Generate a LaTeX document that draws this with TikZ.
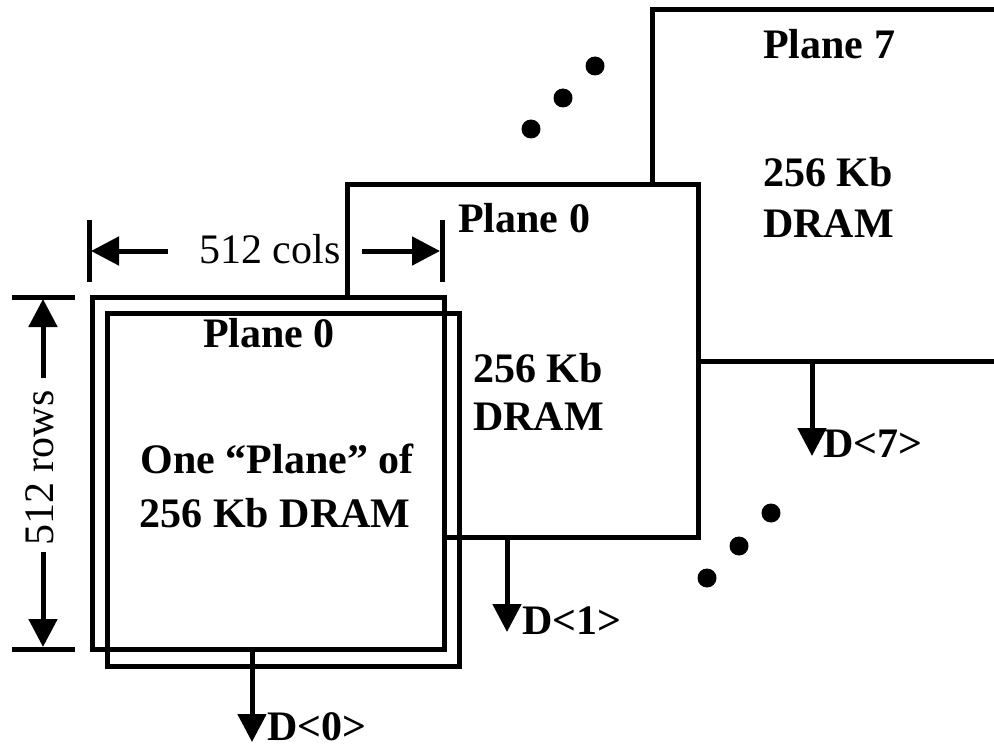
\documentclass[tikz,border=0pt]{standalone}
\usepackage{fontspec}
\setmainfont{Liberation Serif}
\usetikzlibrary{arrows.meta}
\tikzset{
  wire/.style={line width=5pt, line join=miter},
  arr/.style={line width=5pt, -{Triangle[length=28pt,width=28pt]}},
  lbl/.style={inner sep=0pt, font=\fontsize{42}{50}\selectfont\bfseries},
  dimlbl/.style={inner sep=0pt, font=\fontsize{42}{50}\selectfont},
  dotc/.style={fill=black, draw=none}
}
\begin{document}
\begin{tikzpicture}[x=1pt,y=-1pt]
\useasboundingbox (0,0) rectangle (994,749);
% Plane 7 (back)
\coordinate (p7a) at (652,185);
\coordinate (p7b) at (652,10);
\coordinate (p7c) at (994,10);
\coordinate (p7d) at (698,361);
\coordinate (p7e) at (994,361);
\draw[wire] (p7a) -- (p7b) -- (p7c);
\draw[wire] (p7d) -- (p7e);
% Middle plane
\coordinate (m1) at (347,297);
\coordinate (m2) at (347,185);
\coordinate (m3) at (698,185);
\coordinate (m4) at (698,537);
\coordinate (m5) at (444,537);
\draw[wire] (m1) -- (m2) -- (m3) -- (m4) -- (m5);
% Front double box
\draw[wire] (92,297) rectangle (444,649);
\draw[wire] (107,313) rectangle (459,666);
% Texts
\node[lbl, anchor=base west] (t7a) at (763,59) {Plane 7};
\node[lbl, anchor=base west] (t7b) at (763,187) {256 Kb};
\node[lbl, anchor=base west] (t7c) at (763,237) {DRAM};
\node[lbl, anchor=base west] (t1a) at (458,233) {Plane 0};
\node[lbl, anchor=base west] (t1b) at (473,382) {256 Kb};
\node[lbl, anchor=base west] (t1c) at (473,430) {DRAM};
\node[lbl, anchor=base] (t0a) at (269,347) {Plane 0};
\node[lbl, anchor=base] (t0b) at (277,473) {One “Plane” of};
\node[lbl, anchor=base] (t0c) at (275,527) {256 Kb DRAM};
% Output arrows
\coordinate (d0s) at (252,649);
\coordinate (d0e) at (252,742);
\coordinate (d1s) at (507,537);
\coordinate (d1e) at (507,632);
\coordinate (d7s) at (812,361);
\coordinate (d7e) at (812,456);
\draw[arr] (d0s) -- (d0e);
\draw[arr] (d1s) -- (d1e);
\draw[arr] (d7s) -- (d7e);
\node[lbl, anchor=base west] (d0) at (267,740) {D<0>};
\node[lbl, anchor=base west] (d1) at (522,634) {D<1>};
\node[lbl, anchor=base west] (d7) at (823,457) {D<7>};
% 512 cols dimension
\draw[wire] (89,220) -- (89,282);
\draw[wire] (442,220) -- (442,282);
\node[dimlbl, anchor=base] (cols) at (270,263) {512 cols};
\coordinate (cl1) at (168,251);
\coordinate (cl2) at (91,251);
\coordinate (cr1) at (362,251);
\coordinate (cr2) at (440,251);
\draw[arr] (cl1) -- (cl2);
\draw[arr] (cr1) -- (cr2);
% 512 rows dimension
\draw[wire] (12,297) -- (75,297);
\draw[wire] (12,649) -- (75,649);
\node[dimlbl, rotate=90] (rows) at (40,468) {512 rows};
\coordinate (ru1) at (43,378);
\coordinate (ru2) at (43,299);
\coordinate (rd1) at (43,552);
\coordinate (rd2) at (43,647);
\draw[arr] (ru1) -- (ru2);
\draw[arr] (rd1) -- (rd2);
% Ellipsis dots
\fill[dotc] (595,66) circle (9.5);
\fill[dotc] (563,98) circle (9.5);
\fill[dotc] (531,129) circle (9.5);
\fill[dotc] (771,513) circle (9.5);
\fill[dotc] (739,546) circle (9.5);
\fill[dotc] (707,578) circle (9.5);
\end{tikzpicture}
\end{document}
